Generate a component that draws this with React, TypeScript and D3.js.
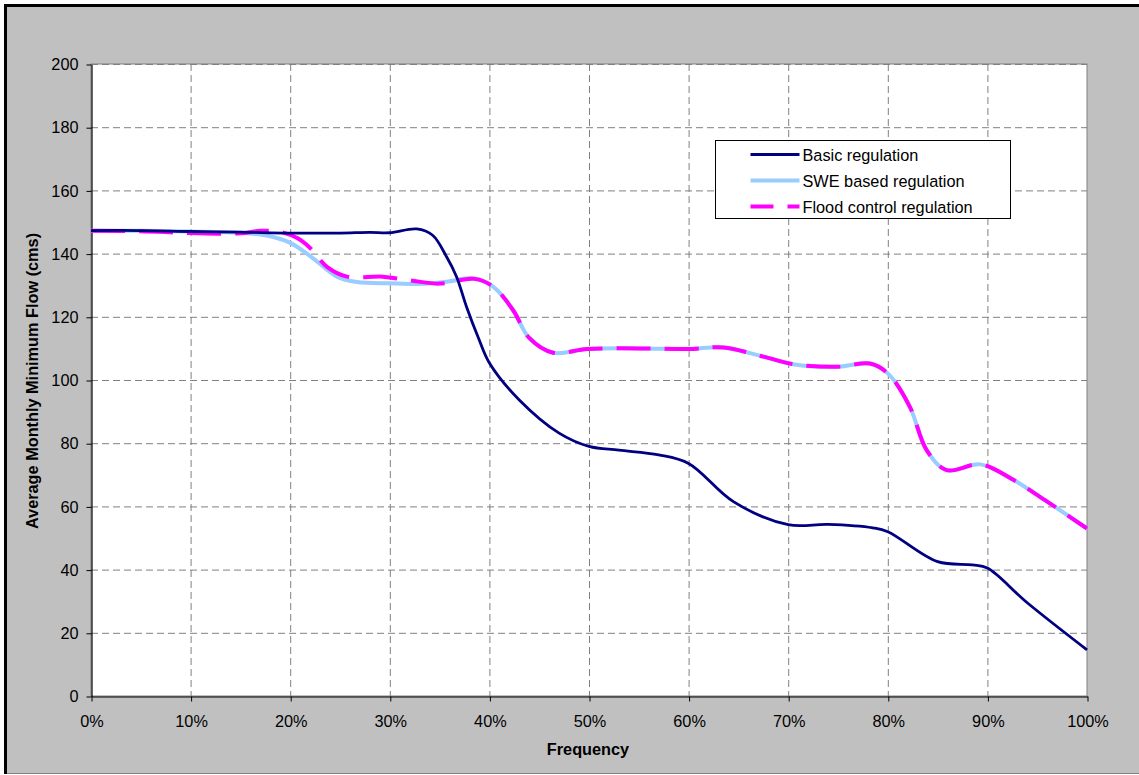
import * as d3 from 'd3';
import React, { useRef, useEffect } from 'react';

// frequency (%) and flow (cms)
const basicFreq = [0, 5, 10, 15, 20, 25, 28, 30, 32.7, 34.3, 35.7, 36.7, 37.7, 38.9, 40, 43, 47, 50, 53, 57, 60, 64.5, 70, 74, 78.5, 80, 85, 88.5, 90, 94, 100];
const basicFlow = [147.3, 147.3, 147.0, 146.8, 146.5, 146.5, 146.7, 146.6, 147.8, 145.8, 139, 132.7, 123.2, 113.3, 105.4, 93.7, 83.2, 79, 77.8, 76.3, 73.6, 61.5, 54.2, 54.3, 53.2, 52, 42.5, 41.5, 40.5, 29.5, 14.6];

const sweFreq = [0, 5, 10, 15, 17.5, 20, 22.3, 24.7, 26.7, 30, 33, 35.7, 38.4, 40.4, 42.4, 44, 46.4, 49.8, 55, 60, 63.5, 67.5, 70.5, 75, 78.2, 80, 82.2, 83.9, 85.9, 89.3, 92.6, 96, 100];
const sweFlow = [147.2, 147.2, 147.0, 146.6, 145.8, 143.4, 138.5, 132.7, 131, 130.6, 130.4, 131.1, 132.2, 129.5, 122, 113.3, 108.6, 109.8, 110, 109.8, 110.3, 107.4, 105, 104.2, 105.2, 102.1, 91.6, 77.8, 71.5, 73.3, 68.4, 61.5, 53];

const floodFreq = [0, 5, 10, 15, 17, 19, 20.7, 22, 23.7, 25.7, 29.3, 32.3, 35, 38.5, 40.4, 42.4, 44, 46.4, 49.8, 55, 60, 63.5, 67.5, 70.5, 75, 78.2, 80, 82.2, 83.9, 85.9, 89.3, 92.6, 96, 100];
const floodFlow = [147.2, 147.1, 146.5, 146.4, 147.2, 146.9, 144.9, 141.8, 135.8, 132.7, 132.7, 131.4, 130.5, 132, 129.5, 122, 113.3, 108.6, 109.8, 110, 109.8, 110.3, 107.4, 105, 104.2, 105.2, 102.1, 91.6, 77.8, 71.5, 73.3, 68.4, 61.5, 53];

const seriesNames = ['Basic regulation', 'SWE based regulation', 'Flood control regulation'];
const xTicks = [0, 10, 20, 30, 40, 50, 60, 70, 80, 90, 100];
const yTicks = [0, 20, 40, 60, 80, 100, 120, 140, 160, 180, 200];

const width = 1139;
const height = 775;
const font = '"Liberation Sans", Arial, sans-serif';
const fontSize = '16.3px';

const App: React.FC = () => {
  const svgRef = useRef<SVGSVGElement | null>(null);

  useEffect(() => {
    const l = 91;
    const t = 64;
    const r = 1087;
    const b = 696;

    const x = d3.scaleLinear().domain([0, 100]).range([l, r]);
    const y = d3.scaleLinear().domain([0, 200]).range([b, t]);

    const svg = d3.select(svgRef.current);
    svg.selectAll('*').remove();

    // chart area background and frame
    svg.append('rect').attr('x', 5).attr('y', 5).attr('width', width).attr('height', height - 6).attr('fill', '#C0C0C0');
    svg.append('line').attr('x1', 5.5).attr('x2', 5.5).attr('y1', 4).attr('y2', height - 1).attr('stroke', '#000').attr('stroke-width', 3);
    svg.append('line').attr('x1', 4).attr('x2', width).attr('y1', 5.5).attr('y2', 5.5).attr('stroke', '#000').attr('stroke-width', 3);
    svg.append('line').attr('x1', 7).attr('x2', width).attr('y1', height - 1.5).attr('y2', height - 1.5).attr('stroke', '#808080').attr('stroke-width', 1);

    // plot area
    svg.append('rect')
      .attr('x', l).attr('y', t).attr('width', r - l).attr('height', b - t)
      .attr('fill', '#fff').attr('stroke', '#808080').attr('stroke-width', 1);

    // grid lines
    const grid = svg.append('g').attr('stroke', '#808080').attr('stroke-width', 1).attr('stroke-dasharray', '7 4');
    yTicks.filter(v => v > 0).forEach(v => {
      grid.append('line').attr('x1', l).attr('x2', r).attr('y1', y(v) + 0.5).attr('y2', y(v) + 0.5);
    });
    xTicks.filter(v => v > 0 && v < 100).forEach(v => {
      grid.append('line').attr('x1', x(v) + 0.5).attr('x2', x(v) + 0.5).attr('y1', t).attr('y2', b);
    });

    // axes
    const yAxis = svg.append('g')
      .attr('transform', `translate(${l + 0.5},0.5)`)
      .call(d3.axisLeft(y).tickValues(yTicks).tickSize(5).tickPadding(8).tickSizeOuter(0));
    const xAxis = svg.append('g')
      .attr('transform', `translate(0.5,${b + 0.5})`)
      .call(d3.axisBottom(x).tickValues(xTicks).tickSize(5).tickPadding(14).tickSizeOuter(0).tickFormat(d => `${d}%`));
    [yAxis, xAxis].forEach(ax => {
      ax.select('.domain').attr('stroke', '#000').attr('stroke-width', 1.2);
      ax.selectAll('.tick line').attr('stroke', '#000');
      ax.selectAll('.tick text').attr('fill', '#000').style('font-family', font).style('font-size', fontSize);
    });

    // lines
    const line = d3.line<[number, number]>()
      .x(d => x(d[0]))
      .y(d => y(d[1]))
      .curve(d3.curveCatmullRom.alpha(0.5));

    const zip = (fs: number[], vs: number[]) => fs.map((f, i) => [f, vs[i]] as [number, number]);

    svg.append('path').datum(zip(sweFreq, sweFlow))
      .attr('fill', 'none').attr('stroke', '#99CCFF').attr('stroke-width', 4).attr('d', line);
    svg.append('path').datum(zip(floodFreq, floodFlow))
      .attr('fill', 'none').attr('stroke', '#FF00FF').attr('stroke-width', 4)
      .attr('stroke-dasharray', '34 14').attr('d', line);
    svg.append('path').datum(zip(basicFreq, basicFlow))
      .attr('fill', 'none').attr('stroke', '#000080').attr('stroke-width', 2.8).attr('d', line);

    // legend
    const lg = svg.append('g').attr('transform', 'translate(715.5,140.5)');
    lg.append('rect').attr('width', 295).attr('height', 78).attr('fill', '#fff').attr('stroke', '#000').attr('stroke-width', 1);
    const styles = [
      { color: '#000080', w: 3, dash: null },
      { color: '#99CCFF', w: 4, dash: null },
      { color: '#FF00FF', w: 4, dash: '23 14' },
    ];
    seriesNames.forEach((name, i) => {
      const cy = 14 + i * 26;
      const s = styles[i];
      const ln = lg.append('line').attr('x1', 35).attr('x2', 84).attr('y1', cy).attr('y2', cy)
        .attr('stroke', s.color).attr('stroke-width', s.w);
      if (s.dash) ln.attr('stroke-dasharray', s.dash);
      lg.append('text').attr('x', 87).attr('y', cy + 6).text(name)
        .style('font-family', font).style('font-size', fontSize).attr('fill', '#000');
    });

    // axis titles
    svg.append('text').attr('x', 588).attr('y', 755).attr('text-anchor', 'middle').text('Frequency')
      .style('font-family', font).style('font-size', fontSize).style('font-weight', 'bold');
    svg.append('text').attr('transform', 'translate(38,381) rotate(-90)').attr('text-anchor', 'middle')
      .text('Average Monthly Minimum Flow (cms)')
      .style('font-family', font).style('font-size', fontSize).style('font-weight', 'bold');
  }, []);

  return (
    <svg ref={svgRef} width={width} height={height}
      style={{ position: 'absolute', left: 0, top: 0, background: '#fff' }} />
  );
};

export default App;
